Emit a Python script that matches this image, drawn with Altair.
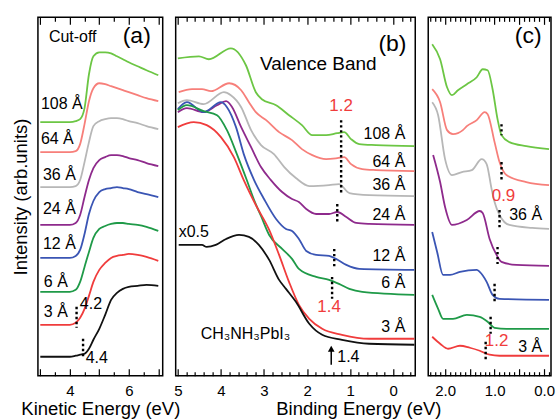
import altair as alt
import pandas as pd

FONT = "Liberation Sans"
H = 359
RED = "#f03c3c"

SERIES = ["108 Å", "64 Å", "36 Å", "24 Å", "12 Å", "6 Å", "3 Å", "CH3NH3PbI3"]
COLORS = ["#6cc644", "#f77f7a", "#b7b7b7", "#8e2a8c", "#3a55b4", "#1f9a48", "#f03c3c", "#111111"]

# ---------- Panel (a): secondary-electron cut-off (kinetic energy, eV) ----------
KE = [3.0, 3.5, 4.0, 4.2, 4.35, 4.5, 4.65, 4.8, 5.0, 5.2, 5.4, 5.6, 5.8, 6.0, 6.3, 6.6, 7.0]
A_108 = [254, 254, 254, 255, 257, 268, 302, 320, 324, 324, 323, 320, 317, 314, 310, 306, 301]
A_64 = [224, 224, 224, 225, 232, 252, 275, 288, 293, 292, 290, 288, 286, 284, 281, 278, 275]
A_36 = [189, 189, 189, 190, 196, 214, 234, 250, 255, 257, 258, 258, 257, 255, 253, 250, 247]
A_24 = [151, 151, 151, 153, 161, 179, 196, 208, 216, 219, 221, 221, 220, 218, 216, 213, 210]
A_12 = [118, 118, 118, 120, 126, 142, 162, 175, 184, 187, 188, 189, 188, 187, 184, 182, 179]
A_6 = [84, 84, 84, 86, 94, 109, 124, 138, 147, 150, 152, 153, 153, 152, 151, 149, 145]
A_3 = [51, 51, 51, 53, 58, 67, 80, 94, 106, 113, 118, 120, 121, 122, 121, 119, 115]
A_0 = [19, 19, 19, 20, 21, 22, 27, 36, 47, 61, 76, 83, 87, 89, 90, 91, 90]

# ---------- Panel (b): valence band (binding energy, eV) ----------
B_108_E = [5.0, 4.51, 4.28, 3.77, 3.42, 3.19, 3.05, 2.72, 2.42, 2.12, 1.88, 1.56, 1.30, 1.14, 0.98, 0.79, 0.40, -0.49]
B_108_I = [318, 320, 317, 328, 311, 284, 277, 271, 261, 251, 241, 241, 243, 244, 237, 232, 231, 230]
B_64_E = [4.98, 4.67, 4.44, 4.23, 3.81, 3.53, 3.35, 3.19, 2.95, 2.65, 2.35, 2.12, 1.88, 1.56, 1.30, 1.14, 0.98, 0.72, 0.40, -0.49]
B_64_I = [284, 287, 287, 285, 293, 286, 274, 264, 256, 244, 236, 227, 221, 217, 218, 219, 212, 207, 206, 205]
B_36_E = [5.0, 4.79, 4.40, 3.93, 3.77, 3.53, 3.30, 3.07, 2.77, 2.53, 2.26, 1.95, 1.49, 1.26, 1.02, 0.56, -0.49]
B_36_I = [273, 276, 272, 284, 281, 269, 246, 231, 222, 209, 198, 190, 191, 192, 183, 181, 180]
B_24_E = [5.0, 4.79, 4.40, 4.09, 3.88, 3.74, 3.53, 3.30, 3.07, 2.84, 2.58, 2.35, 2.19, 2.02, 1.79, 1.49, 1.30, 1.09, 0.86, 0.56, -0.49]
B_24_I = [264, 268, 264, 271, 275, 269, 249, 229, 209, 196, 184, 177, 174, 167, 162, 162, 164, 159, 153, 152, 151]
B_12_E = [5.0, 4.79, 4.40, 4.0, 3.86, 3.65, 3.47, 3.23, 3.0, 2.72, 2.49, 2.35, 2.19, 2.02, 1.79, 1.49, 1.33, 1.09, 0.79, -0.49]
B_12_I = [267, 274, 264, 274, 269, 249, 222, 196, 177, 157, 147, 145, 137, 125, 121, 120, 117, 111, 107, 106]
B_6_E = [5.0, 4.79, 4.40, 4.09, 3.86, 3.63, 3.40, 3.23, 3.07, 2.88, 2.58, 2.35, 2.19, 1.79, 1.49, 1.26, 1.02, 0.72, -0.49]
B_6_I = [266, 271, 265, 261, 246, 222, 196, 176, 160, 141, 127, 117, 107, 99, 96, 92, 87, 84, 81]
B_3_E = [5.0, 4.63, 4.33, 4.0, 3.70, 3.47, 3.19, 2.88, 2.65, 2.42, 2.19, 1.95, 1.65, 1.19, 0.56, -0.49]
B_3_I = [249, 254, 251, 239, 219, 196, 171, 146, 121, 94, 71, 57, 47, 41, 37, 37]
B_0_E = [4.98, 4.44, 4.33, 4.12, 3.88, 3.58, 3.35, 3.12, 2.88, 2.65, 2.49, 2.26, 1.95, 1.65, 1.19, 0.56, -0.49]
B_0_I = [131, 131, 129, 131, 137, 141, 139, 131, 116, 96, 87, 74, 52, 41, 36, 32, 31]

# ---------- Panel (c): near-edge region (binding energy, eV) ----------
C_108_E = [2.26, 2.10, 1.96, 1.86, 1.74, 1.56, 1.36, 1.24, 1.14, 1.04, 0.94, 0.86, 0.70, 0.36, -0.10]
C_108_I = [332, 317, 289, 281, 286, 292, 299, 307, 306, 287, 257, 241, 234, 230, 227]
C_64_E = [2.26, 2.10, 1.96, 1.84, 1.64, 1.56, 1.36, 1.20, 1.14, 1.0, 0.90, 0.76, 0.36, -0.10]
C_64_I = [287, 274, 246, 242, 246, 250, 256, 264, 262, 234, 214, 201, 194, 191]
C_36_E = [2.26, 2.14, 2.0, 1.86, 1.66, 1.46, 1.26, 1.16, 1.06, 1.0, 0.90, 0.70, 0.24, -0.10]
C_36_I = [274, 261, 217, 201, 204, 206, 217, 212, 187, 174, 161, 151, 148, 147]
C_24_E = [2.24, 2.10, 2.0, 1.86, 1.56, 1.30, 1.24, 1.10, 0.96, 0.86, 0.56, -0.10]
C_24_I = [221, 194, 169, 151, 156, 165, 163, 137, 121, 114, 111, 110]
C_12_E = [2.26, 2.16, 2.04, 1.90, 1.70, 1.36, 1.30, 1.16, 1.04, 0.90, -0.10]
C_12_I = [144, 124, 101, 101, 104, 106, 104, 94, 81, 77, 76]
C_6_E = [2.26, 2.14, 2.04, 1.84, 1.56, 1.30, 1.14, 1.0, 0.76, -0.10]
C_6_I = [81, 67, 57, 57, 61, 59, 54, 48, 47, 47]
C_3_E = [2.26, 2.10, 1.94, 1.70, 1.50, 1.30, 1.10, 0.90, -0.10]
C_3_I = [39, 32, 27, 30, 28, 25, 21, 20, 20]

THICK = ["108 Å", "64 Å", "36 Å", "24 Å", "12 Å", "6 Å", "3 Å"]

# annotation values
A_LAB_E = [3.02, 3.02, 3.09, 3.09, 3.09, 3.12, 3.12]
A_LAB_I = [272, 237, 201, 167, 132, 94, 64]
A_CUT_E = [4.23, 4.45]
A_CUT_TOP = [69, 37]
A_CUT_BOT = [48, 17]

B_LAB_I = [242, 214, 191, 161, 120, 93, 49]
B_DOT_E = [1.21, 1.30, 1.37, 1.42]
B_DOT_TOP = [256, 172, 127, 99]
B_DOT_BOT = [181, 154, 109, 77]

C_DOT_E = [0.86, 0.86, 0.90, 0.94, 1.0, 1.08, 1.18]
C_DOT_TOP = [252, 214, 166, 129, 92, 59, 34]
C_DOT_BOT = [241, 196, 146, 112, 74, 42, 14]


def long_df(pairs):
    rows = []
    for name, es, vals in pairs:
        for e, v in zip(es, vals):
            rows.append({"E": e, "I": v, "s": name})
    return pd.DataFrame(rows)


df_a = long_df([(SERIES[0], KE, A_108), (SERIES[1], KE, A_64), (SERIES[2], KE, A_36),
                (SERIES[3], KE, A_24), (SERIES[4], KE, A_12), (SERIES[5], KE, A_6),
                (SERIES[6], KE, A_3), (SERIES[7], KE, A_0)])
df_b = long_df([(SERIES[0], B_108_E, B_108_I), (SERIES[1], B_64_E, B_64_I), (SERIES[2], B_36_E, B_36_I),
                (SERIES[3], B_24_E, B_24_I), (SERIES[4], B_12_E, B_12_I), (SERIES[5], B_6_E, B_6_I),
                (SERIES[6], B_3_E, B_3_I), (SERIES[7], B_0_E, B_0_I)])
df_c = long_df([(SERIES[0], C_108_E, C_108_I), (SERIES[1], C_64_E, C_64_I), (SERIES[2], C_36_E, C_36_I),
                (SERIES[3], C_24_E, C_24_I), (SERIES[4], C_12_E, C_12_I), (SERIES[5], C_6_E, C_6_I),
                (SERIES[6], C_3_E, C_3_I)])


def text_layer(E, I, T, xs, ys, color="black", **mk):
    d = pd.DataFrame({"E": E, "I": I, "t": T})
    return alt.Chart(d).mark_text(font=FONT, color=color, **mk).encode(
        x=alt.X("E:Q", scale=xs, axis=None),
        y=alt.Y("I:Q", scale=ys, axis=None),
        text="t:N",
    )


def dots_layer(E, I1, I2, xs, ys):
    d = pd.DataFrame({"E": E, "I": I1, "I2": I2})
    return alt.Chart(d).mark_rule(color="black", strokeWidth=2.4, strokeDash=[2.4, 2.6]).encode(
        x=alt.X("E:Q", scale=xs, axis=None),
        y=alt.Y("I:Q", scale=ys, axis=None),
        y2="I2:Q",
    )


def panel(df, xs, ys, width, label_vals, label_fmt, tick_vals, major_test, extra, title_kw, y_axis):
    lab_kw = dict(values=label_vals, ticks=False, tickSize=0, domain=False, grid=False,
                  labelFont=FONT, labelFontSize=15, labelColor="black", labelPadding=8, **title_kw)
    if label_fmt:
        lab_kw["format"] = label_fmt
    lines = alt.Chart(df).mark_line(strokeWidth=1.8, interpolate="monotone").encode(
        x=alt.X("E:Q", scale=xs, axis=alt.Axis(**lab_kw)),
        y=alt.Y("I:Q", scale=ys, axis=y_axis),
        color=alt.Color("s:N", scale=alt.Scale(domain=SERIES, range=COLORS), legend=None),
    )
    tick_kw = dict(values=tick_vals, labels=False, domain=False, grid=False, title=None, offset=-H,
                   tickColor="black", tickWidth=1.2,
                   tickSize={"condition": {"test": major_test, "value": 7}, "value": 4})
    t_bot = alt.Chart(df).mark_point(opacity=0).encode(
        x=alt.X("E:Q", scale=xs, axis=alt.Axis(orient="top", **tick_kw)),
        y=alt.Y("I:Q", scale=ys, axis=None),
    )
    t_top = alt.Chart(df).mark_point(opacity=0).encode(
        x=alt.X("E:Q", scale=xs, axis=alt.Axis(orient="bottom", **tick_kw)),
        y=alt.Y("I:Q", scale=ys, axis=None),
    )
    return alt.layer(lines, t_bot, t_top, *extra).resolve_axis(
        x="independent", y="independent").properties(width=width, height=H)


YS = alt.Scale(domain=[0, H], nice=False, zero=False)
TITLE = dict(titleFont=FONT, titleFontSize=18.5, titleFontWeight="normal", titleColor="black")

# ----- (a)
xs_a = alt.Scale(domain=[2.92, 7.15], nice=False, zero=False)
extra_a = [
    text_layer(A_LAB_E, A_LAB_I, THICK, xs_a, YS, align="left", baseline="middle", fontSize=16),
    text_layer([4.10], [339], ["Cut-off"], xs_a, YS, align="center", baseline="middle", fontSize=16),
    text_layer([6.27], [340], ["(a)"], xs_a, YS, align="center", baseline="middle", fontSize=23),
    text_layer([4.34, 4.54], [72, 18], ["4.2", "4.4"], xs_a, YS, align="left", baseline="middle", fontSize=16),
    dots_layer(A_CUT_E, A_CUT_TOP, A_CUT_BOT, xs_a, YS),
]
y_axis_a = alt.Axis(labels=False, ticks=False, domain=False, grid=False, title="Intensity (arb.units)",
                    titleX=-17, titleY=H / 2, titleAngle=270, titleAlign="center", titleBaseline="middle",
                    **TITLE)
pa = panel(df_a, xs_a, YS, 125, [4, 6], None, [3.0, 3.5, 4.0, 4.5, 5.0, 5.5, 6.0, 6.5, 7.0],
           "datum.value % 1 === 0", extra_a,
           dict(title="Kinetic Energy (eV)", titleY=39, titleBaseline="alphabetic", **TITLE), y_axis_a)

# ----- (b)
xs_b = alt.Scale(domain=[-0.51, 5.05], reverse=True, nice=False, zero=False)
arrow_df = pd.DataFrame({"E": [1.44], "I": [11], "I2": [25]})
arrow_shaft = alt.Chart(arrow_df).mark_rule(color="black", strokeWidth=1.5).encode(
    x=alt.X("E:Q", scale=xs_b, axis=None), y=alt.Y("I:Q", scale=YS, axis=None), y2="I2:Q")
arrow_head = alt.Chart(pd.DataFrame({"E": [1.44], "I": [27]})).mark_point(
    shape="triangle-up", filled=True, color="black", size=45, opacity=1).encode(
    x=alt.X("E:Q", scale=xs_b, axis=None), y=alt.Y("I:Q", scale=YS, axis=None))
extra_b = [
    text_layer([-0.28] * 7, B_LAB_I, THICK, xs_b, YS, align="right", baseline="middle", fontSize=16),
    text_layer([0.02], [332], ["(b)"], xs_b, YS, align="center", baseline="middle", fontSize=23),
    text_layer([1.74], [312], ["Valence Band"], xs_b, YS, align="center", baseline="middle", fontSize=19),
    text_layer([1.21, 1.49], [270, 69], ["1.2", "1.4"], xs_b, YS, color=RED, align="center",
               baseline="middle", fontSize=17),
    text_layer([4.98, 4.47, 1.30], [144, 42, 19], ["x0.5", "CH₃NH₃PbI₃", "1.4"], xs_b, YS,
               align="left", baseline="middle", fontSize=16),
    dots_layer(B_DOT_E, B_DOT_TOP, B_DOT_BOT, xs_b, YS),
    arrow_shaft, arrow_head,
]
pb = panel(df_b, xs_b, YS, 240, [5, 4, 3, 2, 1, 0], None,
           [round(-0.4 + 0.2 * k, 1) for k in range(28)],
           "abs(datum.value - round(datum.value)) < 0.01", extra_b,
           dict(title="Binding Energy (eV)", titleY=39, titleX=183, titleAlign="center",
                titleBaseline="alphabetic", **TITLE), None)

# ----- (c)
xs_c = alt.Scale(domain=[-0.14, 2.34], reverse=True, nice=False, zero=False)
extra_c = [
    text_layer([0.32], [340], ["(c)"], xs_c, YS, align="center", baseline="middle", fontSize=23),
    text_layer([0.82, 0.96], [180, 35], ["0.9", "1.2"], xs_c, YS, color=RED, align="center",
               baseline="middle", fontSize=17),
    text_layer([0.04, 0.04], [161, 29], ["36 Å", "3 Å"], xs_c, YS, align="right", baseline="middle",
               fontSize=16),
    dots_layer(C_DOT_E, C_DOT_TOP, C_DOT_BOT, xs_c, YS),
]
pc = panel(df_c, xs_c, YS, 123, [2.0, 1.0, 0.0], ".1f",
           [round(-0.1 + 0.1 * k, 1) for k in range(25)],
           "abs(datum.value * 2 - round(datum.value * 2)) < 0.01", extra_c,
           dict(title=None), None)

chart = alt.hconcat(pa, pb, pc, spacing=13, bounds="flush").properties(
    padding={"left": 11, "top": 15, "right": 0, "bottom": 0},
    background="white",
).configure_view(stroke="black", strokeWidth=1.5)

chart.save("out.html", embed_options={"renderer": "svg", "actions": False})
